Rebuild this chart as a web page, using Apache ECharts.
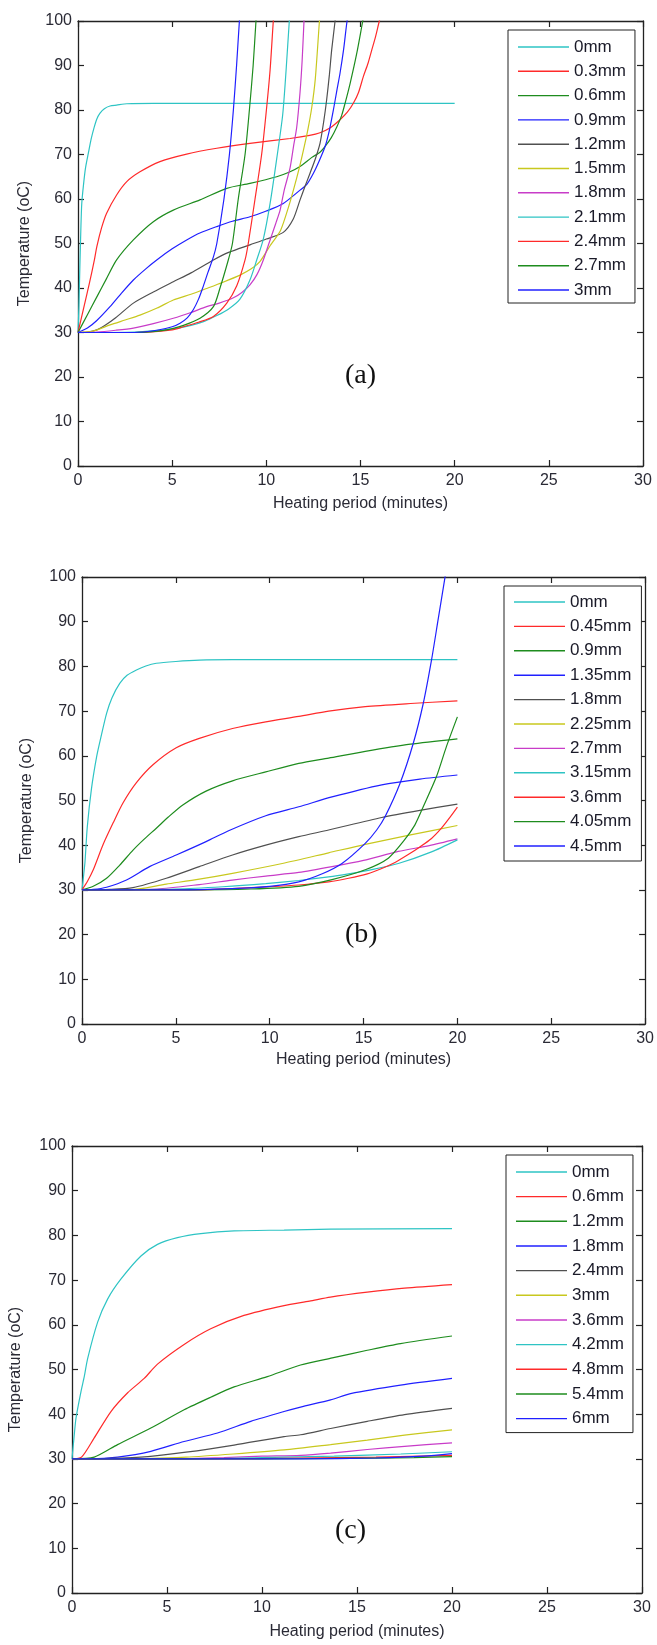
<!DOCTYPE html>
<html>
<head>
<meta charset="utf-8">
<title>Temperature vs heating period</title>
<script src="https://cdn.jsdelivr.net/npm/echarts@6/dist/echarts.min.js"></script>
<style>
    html, body { margin: 0; padding: 0; background: #fff; }
    .panel { position: absolute; left: 0; width: 657px; }
</style>
</head>
<body>
<div id="chartA" class="panel" style="top:0;height:545px"></div>
<div id="chartB" class="panel" style="top:545px;height:555px"></div>
<div id="chartC" class="panel" style="top:1100px;height:545px"></div>

<script>
// ---- data: [minutes, oC] ----
var xTicks = [0, 5, 10, 15, 20, 25, 30];
var yTicks = [0, 10, 20, 30, 40, 50, 60, 70, 80, 90, 100];

// (a)
var namesA = ['0mm', '0.3mm', '0.6mm', '0.9mm', '1.2mm', '1.5mm', '1.8mm', '2.1mm', '2.4mm', '2.7mm', '3mm'];
var a0 = [[0,30],[0.05,36],[0.1,45],[0.15,53],[0.2,59],[0.3,63.5],[0.4,67],[0.55,70.3],[0.7,73.5],[0.85,76],[1.0,78],[1.17,79.3],[1.4,80.3],[1.7,80.9],[2.05,81.1],[2.6,81.4],[4,81.5],[20,81.5]];
var a1 = [[0,30],[0.3,35.5],[0.6,41],[0.87,46.3],[1.0,49.3],[1.25,53.5],[1.52,56.8],[2.05,60.9],[2.59,63.9],[3.29,66.1],[4.35,68.4],[5.77,70.1],[7.37,71.4],[9.13,72.5],[11.26,73.6],[12.3,74.3],[12.85,74.9],[13.4,76],[13.91,77.8],[14.3,79.5],[14.62,81.5],[14.9,84],[15.15,87.5],[15.4,90.5],[15.6,93.5],[15.8,96.5],[16.0,100],[16.2,103]];
var a2 = [[0,30],[0.5,34],[1,38],[1.5,42],[2.05,46.3],[2.94,50.8],[4.0,54.9],[5.06,57.5],[6.48,59.8],[7.9,62.4],[9.13,63.5],[10.55,65.0],[11.2,66],[11.79,67.3],[12.4,69.3],[12.85,70.5],[13.12,71.8],[13.45,73.8],[13.74,76.2],[14.0,78.8],[14.18,81.5],[14.45,86],[14.8,92.7],[15.12,100],[15.3,104]];
var a3 = [[0,30],[0.5,31],[1,32.7],[1.7,35.8],[2.3,38.8],[2.94,41.8],[3.6,44.3],[4.18,46.3],[5.0,48.8],[5.77,50.8],[6.5,52.4],[7.37,53.8],[8.2,55],[9.13,56.0],[10,57.3],[10.9,59.0],[11.79,62.0],[12.15,63.3],[12.5,65.8],[12.8,68.5],[13.12,71.8],[13.35,75.5],[13.56,80],[13.75,84.5],[13.91,88.2],[14.1,93.5],[14.27,99.5],[14.4,103]];
var a4 = [[0,30],[0.5,30.1],[1,30.6],[1.5,31.8],[2,33.3],[2.94,36.6],[4,39.1],[5.06,41.4],[6,43.4],[7.19,46.3],[8,48],[9.13,49.7],[10,51],[10.9,52.5],[11.43,55.5],[11.79,59.8],[12.05,62.8],[12.32,65.8],[12.6,69],[12.85,72.5],[13.05,77.5],[13.2,82.2],[13.35,88],[13.47,93.5],[13.65,100],[13.75,104]];
var a5 = [[0,30],[0.8,30.3],[1.7,31.7],[2.5,32.8],[3.29,33.9],[4.2,35.5],[5.06,37.3],[6,38.6],[6.83,39.9],[7.7,41.3],[8.6,42.9],[9.2,44.3],[9.67,46],[10.2,49.5],[10.76,53],[11.2,58.5],[11.47,62.5],[11.75,67],[11.97,71],[12.2,75.5],[12.41,80.5],[12.6,87],[12.82,100],[12.9,104]];
var a6 = [[0,30],[1,30.1],[2,30.5],[2.94,31],[4,32],[5.06,33.2],[6,34.5],[6.83,35.8],[7.5,36.6],[8.25,37.8],[8.7,39],[9.13,40.7],[9.5,43],[9.84,46.3],[10.2,50.8],[10.5,54.5],[10.73,57.5],[10.95,62],[11.26,67],[11.45,72],[11.61,76],[11.79,84],[11.9,91],[12.0,100],[12.05,104]];
var a7 = [[0,30],[3,30.1],[5,30.8],[6,31.6],[6.7,32.5],[7.37,33.8],[8.0,35.3],[8.6,37.5],[9.13,41.8],[9.49,46.3],[9.84,51],[10.2,59],[10.55,69],[10.87,79],[11.05,89],[11.22,100],[11.3,104]];
var a8 = [[0,30],[3,30],[5,30.6],[5.6,31.3],[6.4,32.3],[7.19,33.6],[7.9,36.6],[8.43,40.5],[8.87,46.3],[9.04,50],[9.4,60],[9.75,70],[9.98,79],[10.2,89],[10.37,100],[10.45,104]];
var a9 = [[0,30],[3,30],[4.71,30.6],[5.6,31.6],[6.48,33.2],[7.19,35.8],[7.54,40],[7.98,46.3],[8.2,50],[8.51,60],[8.87,70],[9.1,80],[9.3,90],[9.45,100],[9.52,104]];
var a10 = [[0,30],[3,30],[4.18,30.5],[5.0,31.3],[5.42,32.1],[5.8,33.3],[6.12,35.1],[6.4,37.5],[6.62,40],[6.9,43.5],[7.19,47],[7.37,50],[7.75,60],[8.04,70],[8.25,80],[8.42,90],[8.57,100],[8.65,104]];

// (b)
var namesB = ['0mm', '0.45mm', '0.9mm', '1.35mm', '1.8mm', '2.25mm', '2.7mm', '3.15mm', '3.6mm', '4.05mm', '4.5mm'];
var b0 = [[0,30],[0.08,33],[0.16,36.3],[0.28,44],[0.5,52.5],[0.78,59.8],[1.0,64],[1.31,69.5],[1.6,73],[2.01,76.2],[2.4,78],[2.9,79.2],[3.4,80.1],[3.96,80.7],[5,81.1],[6.25,81.4],[8,81.5],[20,81.5]];
var b1 = [[0,30],[0.3,32],[0.6,34.5],[1.13,40.2],[1.66,45],[2.19,49.5],[2.9,54],[3.78,58],[5.02,61.8],[6.25,63.9],[8.02,66.1],[9.79,67.6],[11.55,68.8],[13.14,70],[15.09,71.0],[17.5,71.7],[20,72.3]];
var b2 = [[0,30],[0.6,30.8],[1.31,32.6],[2.0,35.5],[2.72,38.9],[3.3,41.3],[3.96,43.8],[4.6,46.3],[5.37,49],[6.61,52.1],[8.02,54.4],[9.79,56.4],[11.55,58.3],[13.14,59.5],[15.09,61.0],[17.5,62.6],[20,63.8]];
var b3 = [[0,30],[0.6,30.1],[1.31,30.6],[2.37,32.2],[3.6,35.2],[5.02,37.8],[6.61,40.8],[7.84,43.3],[9.79,46.6],[11.55,48.6],[13.32,50.8],[15.97,53.5],[18,54.8],[20,55.7]];
var b4 = [[0,30],[1.5,30.1],[2.72,30.5],[4.49,32.6],[6.25,35.2],[8.02,37.8],[9.79,40.0],[11.55,41.9],[13.14,43.4],[15.97,46.2],[18,47.8],[20,49.2]];
var b5 = [[0,30],[2.5,30],[4.49,31.3],[6.25,32.4],[8.02,33.7],[10.67,35.9],[13.14,38.3],[15.09,40.2],[17.5,42.3],[20,44.4]];
var b6 = [[0,30],[4,30.2],[6.25,31.2],[8,32.2],[9.79,33.1],[11.55,33.9],[13.32,35.2],[15,36.6],[16.85,38.6],[18.5,39.9],[20,41.4]];
var b7 = [[0,30],[5,30.2],[7.5,30.7],[9.79,31.4],[11.55,32.1],[13.14,32.9],[14.2,33.6],[15.5,34.6],[16.85,35.9],[18.62,38.5],[20,41.2]];
var b8 = [[0,30],[6,30],[8,30.3],[10,30.7],[11.55,31.1],[13.14,31.8],[14.2,32.6],[15.2,33.6],[15.97,34.8],[16.7,36.2],[17.38,37.9],[18.0,39.6],[18.62,41.5],[19.15,43.8],[19.6,46.2],[20,48.5]];
var b9 = [[0,30],[6,30],[9,30.2],[11.55,30.8],[13.32,32.3],[15.09,34.5],[16.32,37.1],[17.15,41],[17.73,44.5],[18.18,48.6],[18.88,55.3],[19.41,62.0],[20,68.7]];
var b10 = [[0,30],[5,30],[8,30.3],[10,30.8],[11.55,31.8],[12.8,33.6],[13.85,35.9],[15.09,40.4],[15.7,43.4],[16.15,46.4],[16.94,53.8],[17.65,62.8],[18.18,71.7],[18.62,81.4],[18.97,90.4],[19.33,99.7],[19.45,103]];

// (c)
var namesC = ['0mm', '0.6mm', '1.2mm', '1.8mm', '2.4mm', '3mm', '3.6mm', '4.2mm', '4.8mm', '5.4mm', '6mm'];
var c0 = [[0,30],[0.1,34.5],[0.21,39.1],[0.47,45],[0.65,48.5],[0.82,52.4],[1.35,60.6],[1.88,65.8],[2.57,70.2],[3.63,75.4],[4.5,78.0],[5.55,79.5],[6.78,80.4],[8.53,81.0],[11.16,81.2],[13.6,81.4],[20,81.5]];
var c1 = [[0,30],[0.5,30.4],[1.17,34.7],[2.05,40.6],[2.93,44.8],[3.8,48],[4.5,51.2],[5.9,55.6],[7.3,59.1],[9.05,62.1],[11.16,64.3],[12.5,65.3],[13.6,66.2],[15.54,67.3],[17.5,68.2],[20,69.0]];
var c2 = [[0,30],[1.17,30.4],[2.4,33.2],[4.15,36.9],[5.9,41.0],[7.3,43.8],[8.53,46.1],[10.28,48.4],[12.03,51.0],[13.7,52.6],[15.54,54.3],[17.29,55.8],[20,57.5]];
var c3 = [[0,30],[1,30],[2.4,30.4],[4.15,31.7],[5.9,33.9],[7.66,35.8],[9.41,38.4],[11.16,40.6],[12.03,41.6],[13.61,43.2],[14.66,44.6],[17.29,46.5],[20,48.0]];
var c4 = [[0,30],[2,30.1],[4,30.5],[6,31.5],[8.53,33.1],[11.16,35.0],[12.03,35.4],[13.61,36.8],[15.54,38.4],[17.5,39.9],[20,41.3]];
var c5 = [[0,30],[3,30],[6,30.4],[8.5,31.1],[11.16,32.0],[13.61,33.2],[15.54,34.2],[17.5,35.3],[20,36.5]];
var c6 = [[0,30],[5,30],[8,30.3],[10,30.6],[12.03,30.8],[13.61,31.3],[15.54,32.1],[17.5,32.8],[20,33.6]];
var c7 = [[0,30],[6,30],[10,30.3],[13.8,30.6],[17.3,31.1],[20,31.6]];
var c8 = [[0,30],[8,30],[12,30.2],[16,30.4],[20,30.8]];
var c9 = [[0,30],[10,30],[14,30.1],[18,30.3],[20,30.5]];
var c10 = [[0,30],[12,30],[16,30.2],[18.5,30.6],[20,31.2]];

// MATLAB-like colour order
var lineColors = ['#2ec4c4', '#ff2a2a', '#1e8c1e', '#2020ff', '#505050', '#c8c81e', '#c83cc8', '#2ec4c4', '#ff2a2a', '#1e8c1e', '#2020ff'];

var FONT = '"Liberation Sans", Arial, sans-serif';
var INK = '#2a2a35';

function frameAxis(pos, showLabel, extra) {
    var vertical = pos === 'left' || pos === 'right';
    var ticks = vertical ? yTicks : xTicks;
    var ax = {
        type: 'value',
        position: pos,
        min: ticks[0],
        max: ticks[ticks.length - 1],
        interval: ticks[1] - ticks[0],
        axisLine: { show: true, onZero: false, lineStyle: { color: '#222', width: 1.3 } },
        axisTick: { show: true, inside: true, length: 6, lineStyle: { color: '#222', width: 1.2 } },
        axisLabel: { show: showLabel, fontSize: 16, color: INK, fontFamily: FONT },
        splitLine: { show: false }
    };
    for (var k in extra) ax[k] = extra[k];
    return ax;
}

function makeOption(cfg) {
    var series = [];
    for (var i = 0; i < cfg.data.length; i++) {
        series.push({
            name: cfg.names[i],
            type: 'line',
            data: cfg.data[i],
            symbol: 'none',
            showSymbol: false,
            smooth: 0.25,
            clip: true,
            color: lineColors[i],
            lineStyle: { width: 1.2, color: lineColors[i] }
        });
    }
    var xb = frameAxis('bottom', true, {
        name: 'Heating period (minutes)',
        nameLocation: 'middle',
        nameGap: cfg.xNameGap,
        nameTextStyle: { fontSize: 16, color: INK, fontFamily: FONT }
    });
    xb.axisLabel.margin = 7;
    var yl = frameAxis('left', true, {
        name: 'Temperature (oC)',
        nameLocation: 'middle',
        nameGap: cfg.yNameGap,
        nameTextStyle: { fontSize: 16, color: INK, fontFamily: FONT }
    });
    yl.axisLabel.margin = 6;

    return {
        animation: false,
        backgroundColor: '#fff',
        textStyle: { fontFamily: FONT },
        grid: cfg.grid,
        xAxis: [xb, frameAxis('top', false, {})],
        yAxis: [yl, frameAxis('right', false, {})],
        legend: {
            orient: 'vertical',
            left: cfg.legend.left,
            top: cfg.legend.top,
            padding: cfg.legend.padding,
            itemGap: cfg.legend.gap,
            icon: 'rect',
            itemWidth: 51,
            itemHeight: 1.4,
            backgroundColor: '#fff',
            borderColor: '#222',
            borderWidth: 1,
            borderRadius: 0,
            selectedMode: false,
            data: cfg.names,
            textStyle: { fontSize: 17, lineHeight: 18, color: '#1a1a28', fontFamily: FONT }
        },
        graphic: [{
            type: 'text',
            left: cfg.tag.left,
            top: cfg.tag.top,
            style: { text: cfg.tag.text, font: '28px "Liberation Serif", "Times New Roman", serif', fill: '#111' }
        }],
        series: series
    };
}

var chartA = echarts.init(document.getElementById('chartA'));
chartA.setOption(makeOption({
    grid: { left: 78, top: 21, width: 565, height: 445 },
    names: namesA,
    data: [a0, a1, a2, a3, a4, a5, a6, a7, a8, a9, a10],
    legend: { left: 508, top: 30, padding: [8, 9, 4, 10], gap: 6.3 },
    xNameGap: 30, yNameGap: 45,
    tag: { text: '(a)', left: 345, top: 362 }
}));

var chartB = echarts.init(document.getElementById('chartB'));
chartB.setOption(makeOption({
    grid: { left: 82, top: 32, width: 566, height: 447 },
    names: namesB,
    data: [b0, b1, b2, b3, b4, b5, b6, b7, b8, b9, b10],
    legend: { left: 504, top: 41, padding: [7, 10, 6, 10], gap: 6.4 },
    xNameGap: 28, yNameGap: 47,
    tag: { text: '(b)', left: 345, top: 376 }
}));

var chartC = echarts.init(document.getElementById('chartC'));
chartC.setOption(makeOption({
    grid: { left: 71, top: 46, width: 571, height: 450 },
    names: namesC,
    data: [c0, c1, c2, c3, c4, c5, c6, c7, c8, c9, c10],
    legend: { left: 506, top: 55, padding: [8, 9, 5, 10], gap: 6.66 },
    xNameGap: 31, yNameGap: 48,
    tag: { text: '(c)', left: 335, top: 417 }
}));

window.addEventListener('resize', function () {
    chartA.resize();
    chartB.resize();
    chartC.resize();
});
</script>
</body>
</html>
